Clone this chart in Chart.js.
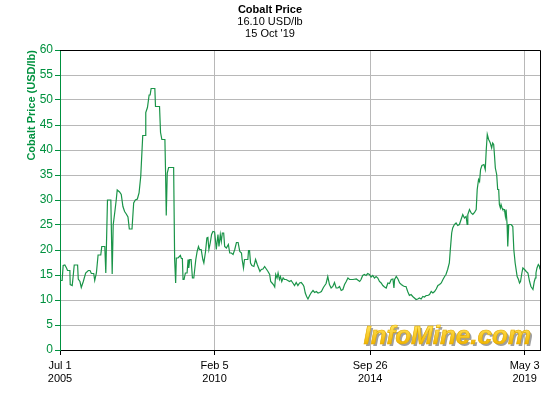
<!DOCTYPE html>
<html>
<head>
<meta charset="utf-8">
<script src="https://cdn.jsdelivr.net/npm/chart.js@4.4.1/dist/chart.umd.min.js"></script>
<style>
  html, body { margin: 0; padding: 0; background: #fff; }
</style>
</head>
<body>
<canvas id="chart" width="560" height="400"></canvas>
<script>
// Zeitachse in Dezimaljahren, Preise in USD/lb
const jahre = [
  2005.50, 2005.56, 2005.59, 2005.64, 2005.69, 2005.72, 2005.79, 2005.80, 2005.86, 2005.89, 2005.92,
  2006.02, 2006.04, 2006.09, 2006.13, 2006.19, 2006.26, 2006.34, 2006.39, 2006.43, 2006.50, 2006.53,
  2006.58, 2006.63, 2006.71, 2006.74, 2006.83, 2006.86, 2006.91, 2007.01, 2007.05, 2007.08, 2007.13,
  2007.17, 2007.20, 2007.27, 2007.32, 2007.37, 2007.42, 2007.47, 2007.52, 2007.56, 2007.64, 2007.69,
  2007.74, 2007.80, 2007.85, 2007.90, 2007.96, 2008.03, 2008.05, 2008.10, 2008.15, 2008.18, 2008.21,
  2008.32, 2008.34, 2008.46, 2008.49, 2008.53, 2008.62, 2008.64, 2008.66, 2008.69, 2008.73, 2008.88,
  2008.91, 2008.94, 2008.96, 2009.01, 2009.08, 2009.11, 2009.14, 2009.16, 2009.19, 2009.23, 2009.28,
  2009.31, 2009.33, 2009.36, 2009.40, 2009.44, 2009.48, 2009.54, 2009.58, 2009.62, 2009.65, 2009.70,
  2009.75, 2009.78, 2009.83, 2009.87, 2009.90, 2009.93, 2009.97, 2010.01, 2010.05, 2010.10, 2010.13,
  2010.15, 2010.20, 2010.23, 2010.27, 2010.30, 2010.33, 2010.37, 2010.40, 2010.45, 2010.51, 2010.55,
  2010.60, 2010.65, 2010.70, 2010.75, 2010.80, 2010.85, 2010.90, 2010.92, 2010.96, 2010.99,
  2011.09, 2011.11, 2011.14, 2011.17, 2011.21, 2011.27, 2011.32, 2011.37, 2011.41, 2011.45, 2011.49,
  2011.54, 2011.59, 2011.64, 2011.69, 2011.74, 2011.77, 2011.81, 2011.85, 2011.89, 2011.92, 2011.96,
  2011.99, 2012.03, 2012.06, 2012.10, 2012.14, 2012.18, 2012.23, 2012.28, 2012.33, 2012.38, 2012.43,
  2012.48, 2012.53, 2012.58, 2012.63, 2012.68, 2012.73, 2012.76, 2012.80, 2012.84, 2012.88, 2012.93,
  2012.98, 2013.03, 2013.08, 2013.13, 2013.18, 2013.23, 2013.28, 2013.34, 2013.38, 2013.42, 2013.47,
  2013.52, 2013.57, 2013.62, 2013.67, 2013.72, 2013.77, 2013.82, 2013.87,
  2013.92, 2013.97, 2014.02, 2014.07, 2014.12, 2014.22, 2014.32, 2014.42, 2014.46, 2014.51, 2014.56,
  2014.61, 2014.66, 2014.71, 2014.76, 2014.81, 2014.86, 2014.91, 2014.96, 2015.01, 2015.06, 2015.11,
  2015.16, 2015.21, 2015.26, 2015.31, 2015.36, 2015.41, 2015.44, 2015.46, 2015.51, 2015.56, 2015.61,
  2015.66, 2015.70, 2015.75, 2015.80, 2015.85, 2015.90, 2015.95, 2016.00, 2016.05, 2016.10, 2016.15,
  2016.20, 2016.25, 2016.30, 2016.35, 2016.40, 2016.45, 2016.50, 2016.55, 2016.60,
  2016.65, 2016.70, 2016.75, 2016.80, 2016.85, 2016.90, 2016.95, 2016.99, 2017.04, 2017.09, 2017.12,
  2017.16, 2017.19, 2017.24, 2017.29, 2017.34, 2017.39, 2017.44, 2017.49, 2017.54, 2017.59, 2017.62,
  2017.64, 2017.69, 2017.74, 2017.79, 2017.84, 2017.89, 2017.92, 2017.96, 2017.99, 2018.02, 2018.06,
  2018.12, 2018.16, 2018.19, 2018.22, 2018.26, 2018.29, 2018.31, 2018.35, 2018.38, 2018.41, 2018.43,
  2018.46, 2018.50, 2018.53, 2018.56, 2018.58, 2018.61, 2018.63, 2018.66, 2018.68, 2018.73, 2018.76,
  2018.78, 2018.81, 2018.83, 2018.86, 2018.93, 2018.98, 2019.01, 2019.05, 2019.11, 2019.15, 2019.18,
  2019.21, 2019.25, 2019.28, 2019.33, 2019.38, 2019.43, 2019.48, 2019.52, 2019.55, 2019.58, 2019.62,
  2019.65, 2019.67, 2019.70, 2019.74, 2019.77, 2019.79
];

const preise = [
  13.9, 13.9, 16.9, 17.0, 16.4, 15.9, 15.9, 13.1, 12.9, 14.9, 17.0,
  17.0, 14.2, 13.7, 12.5, 13.7, 15.4, 15.9, 15.9, 15.3, 15.3, 13.9,
  15.4, 19.0, 19.0, 20.7, 20.7, 15.4, 30.0, 30.0, 15.2, 25.0, 27.7,
  30.0, 32.0, 31.6, 31.1, 28.7, 27.7, 27.2, 26.6, 24.2, 24.2, 29.4,
  30.0, 30.2, 31.4, 34.7, 42.9, 42.9, 47.5, 48.5, 51.0, 51.0, 52.3,
  52.3, 48.7, 48.7, 43.5, 42.1, 42.1, 35.4, 26.9, 35.4, 36.5, 36.5,
  18.1, 13.4, 18.4, 18.4, 18.9, 18.3, 18.3, 14.1, 14.1, 15.4, 15.4,
  18.1, 16.4, 18.1, 18.1, 14.4, 14.4, 18.1, 19.7, 20.7, 20.1, 20.1,
  18.1, 17.4, 19.7, 22.4, 22.5, 20.1, 21.4, 23.1, 23.7, 23.6, 21.7,
  20.1, 23.1, 20.7, 23.1, 21.7, 23.4, 23.4, 20.7, 20.4, 21.1, 19.4,
  19.4, 19.1, 20.1, 21.5, 21.5, 19.7, 19.4, 18.1, 16.4, 18.1,
  18.1, 19.9, 19.9, 17.4, 16.9, 16.7, 18.1, 17.1, 16.4, 15.7, 16.1,
  16.2, 16.7, 16.2, 15.7, 15.1, 13.7, 13.4, 13.1, 12.6, 15.1, 14.4,
  15.4, 14.1, 14.7, 13.7, 14.4, 14.1, 14.1, 13.9, 13.7, 13.9, 13.4,
  12.9, 13.5, 12.9, 13.4, 13.5, 13.1, 12.7, 11.4, 10.7, 10.2, 10.9,
  11.5, 11.9, 11.5, 11.7, 11.4, 11.5, 11.7, 12.5, 12.9, 13.3, 14.7,
  13.1, 12.4, 12.7, 13.5, 12.4, 12.4, 12.7, 11.9,
  12.1, 13.1, 13.7, 14.4, 14.1, 14.1, 14.2, 13.7, 14.1, 14.9, 15.1,
  14.9, 15.3, 15.1, 14.6, 14.9, 14.4, 14.7, 14.4, 13.7, 13.4, 12.9,
  12.6, 12.4, 13.4, 13.3, 14.1, 14.2, 12.4, 14.1, 14.7, 14.2, 13.4,
  13.1, 12.9, 12.7, 12.7, 11.7, 10.9, 11.1, 10.7, 10.4, 10.1, 10.2,
  10.4, 10.2, 10.7, 10.6, 10.9, 10.9, 11.1, 11.7, 11.4,
  11.7, 12.2, 12.9, 13.1, 13.4, 14.1, 14.7, 15.1, 16.1, 17.4, 20.1,
  23.4, 24.4, 25.1, 25.4, 24.9, 25.1, 26.1, 27.1, 26.4, 26.7, 25.1,
  27.1, 28.1, 27.4, 27.1, 27.5, 28.1, 32.1, 34.1, 33.7, 36.1, 36.9,
  37.1, 36.1, 40.1, 43.1, 42.1, 41.7, 41.4, 40.4, 41.4, 41.1, 39.4,
  36.4, 35.1, 32.1, 32.1, 29.1, 28.4, 29.1, 28.4, 28.1, 28.1, 26.7,
  28.1, 25.1, 20.7, 25.1, 25.1, 24.7, 20.1, 17.4, 14.7, 14.1, 13.4,
  13.7, 15.4, 16.4, 16.1, 15.7, 15.4, 13.7, 12.7, 12.4, 12.1, 13.7,
  14.4, 15.4, 16.4, 17.1, 16.8, 16.1
];

// Achsenbeschriftung unten
const tickJahre = [2005.496, 2010.099, 2014.734, 2019.334];
const tickTexte = [["Jul 1", "2005"], ["Feb 5", "2010"], ["Sep 26", "2014"], ["May 3", "2019"]];

const GRUEN = "#00913f";
const SCHRIFT = '"Liberation Sans", Arial, sans-serif';

Chart.defaults.font.family = SCHRIFT;
Chart.defaults.font.size = 12;

// schwarzer Rahmen oben und rechts
const rahmen = {
  id: "rahmen",
  afterDraw(chart) {
    const { ctx, chartArea: a } = chart;
    ctx.save();
    ctx.strokeStyle = "#000";
    ctx.lineWidth = 1;
    ctx.beginPath();
    ctx.moveTo(a.left, Math.round(a.top) + 0.5);
    ctx.lineTo(Math.round(a.right) + 0.5, Math.round(a.top) + 0.5);
    ctx.lineTo(Math.round(a.right) + 0.5, a.bottom);
    ctx.stroke();
    ctx.restore();
  }
};

// Wasserzeichen unten rechts
const logo = {
  id: "logo",
  beforeDatasetsDraw(chart) {
    const { ctx, chartArea: a } = chart;
    const text = "InfoMine.com";
    ctx.save();
    ctx.font = 'italic bold 26px ' + SCHRIFT;
    ctx.textAlign = "right";
    ctx.textBaseline = "alphabetic";
    const x = a.right - 9;
    const y = a.bottom - 6;
    ctx.fillStyle = "#a0a0a0";
    ctx.fillText(text, x + 2, y + 2);
    const grad = ctx.createLinearGradient(0, y - 19, 0, y);
    grad.addColorStop(0, "#ffe45c");
    grad.addColorStop(1, "#f2b600");
    ctx.fillStyle = grad;
    ctx.fillText(text, x, y);
    ctx.strokeStyle = "#e0a800";
    ctx.lineWidth = 0.6;
    ctx.strokeText(text, x, y);
    ctx.restore();
  }
};

new Chart(document.getElementById("chart"), {
  type: "line",
  data: {
    datasets: [{
      data: jahre.map((j, i) => ({ x: j, y: preise[i] })),
      borderColor: "#1a9448",
      borderWidth: 1.2,
      pointRadius: 0,
      tension: 0,
      fill: false
    }]
  },
  options: {
    responsive: false,
    animation: false,
    devicePixelRatio: 1,
    layout: { padding: { left: 0, right: 20, top: 0, bottom: 0 } },
    plugins: {
      legend: { display: false },
      tooltip: { enabled: false },
      title: {
        display: true,
        text: "Cobalt Price",
        color: "#000",
        font: { size: 11, weight: "bold", lineHeight: "12px" },
        padding: { top: 3.5, bottom: 0 }
      },
      subtitle: {
        display: true,
        text: ["16.10 USD/lb", "15 Oct '19"],
        color: "#000",
        font: { size: 11, lineHeight: "12px" },
        padding: { top: 0, bottom: 10.5 }
      }
    },
    scales: {
      x: {
        type: "linear",
        min: 2005.496,
        max: 2019.79,
        afterBuildTicks: (scale) => { scale.ticks = tickJahre.map(v => ({ value: v })); },
        afterFit: (scale) => { scale.height = 50; },
        ticks: {
          color: "#000",
          maxRotation: 0,
          autoSkip: false,
          padding: 4,
          font: { size: 11, lineHeight: 1.2 },
          callback: (v, i) => tickTexte[i]
        },
        grid: { color: "#b8b8b8", tickColor: "#000", tickLength: 5, lineWidth: 1 },
        border: { color: "#000", width: 1 }
      },
      y: {
        min: 0,
        max: 60,
        afterFit: (scale) => { scale.width = 60; },
        ticks: { stepSize: 5, color: GRUEN, padding: 2, font: { size: 12 } },
        grid: { color: "#b8b8b8", tickColor: GRUEN, tickLength: 5, lineWidth: 1 },
        border: { color: GRUEN, width: 1 },
        title: {
          display: true,
          text: "Cobalt Price (USD/lb)",
          color: GRUEN,
          align: "end",
          font: { size: 11, weight: "bold" },
          padding: { top: 25, bottom: 0 }
        }
      }
    }
  },
  plugins: [logo, rahmen]
});
</script>
</body>
</html>
